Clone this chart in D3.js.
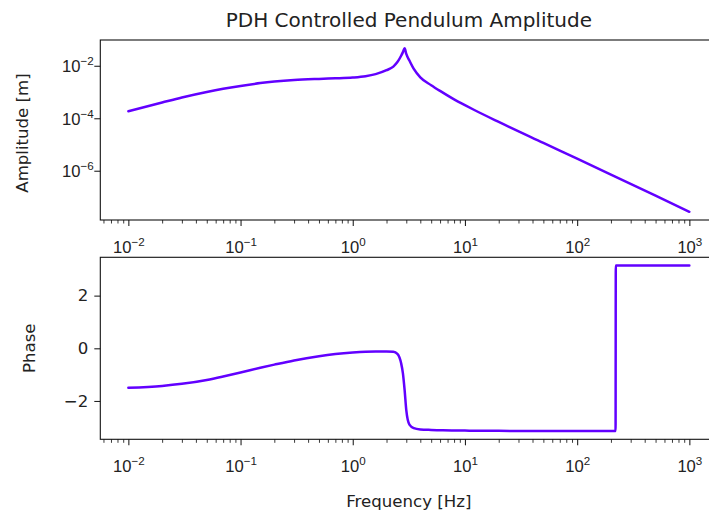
<!DOCTYPE html>
<html>
<head>
<meta charset="utf-8">
<script src="https://cdn.jsdelivr.net/npm/d3@7/dist/d3.min.js"></script>
<style>
  html, body { margin: 0; padding: 0; background: #fff; }
  svg { display: block; font-family: "DejaVu Sans", sans-serif; }
</style>
</head>
<body>
<svg id="chart" width="709" height="516"></svg>
<script>
// Frequency response of the PDH-controlled pendulum
const ampFreqHz = [0.01, 0.02, 0.03, 0.05, 0.07, 0.1, 0.15, 0.2, 0.3, 0.5,
  0.7, 1.0, 1.3, 1.6, 2.0, 2.3, 2.5, 2.7, 2.8, 2.9,
  3.0, 3.2, 3.5, 4, 5, 6, 8, 10, 12, 20,
  50, 100, 200, 500, 1000];

const amplitudeM = [1.86e-4, 3.98e-4, 6.17e-4, 1.0e-3, 1.32e-3, 1.70e-3, 2.19e-3, 2.51e-3, 2.88e-3, 3.16e-3,
  3.31e-3, 3.55e-3, 3.98e-3, 4.79e-3, 6.76e-3, 9.33e-3, 1.38e-2, 2.40e-2, 3.31e-2, 4.68e-2,
  2.82e-2, 1.58e-2, 7.59e-3, 3.63e-3, 1.82e-3, 1.10e-3, 5.25e-4, 3.16e-4, 2.11e-4, 7.24e-5,
  1.15e-5, 2.88e-6, 7.16e-7, 1.12e-7, 2.72e-8];

const phaseFreqHz = [0.01, 0.02, 0.03, 0.05, 0.07, 0.1, 0.15, 0.2, 0.3, 0.5,
  0.7, 1.0, 1.3, 1.6, 2.0, 2.3, 2.5, 2.7, 2.8, 2.9,
  3.0, 3.2, 3.5, 4, 5, 6, 8, 10, 12, 20,
  50, 100, 200, 220, 221, 500, 1000];

const phaseRad = [-1.50, -1.43, -1.35, -1.20, -1.07, -0.92, -0.74, -0.62, -0.46, -0.30,
  -0.22, -0.16, -0.13, -0.12, -0.12, -0.13, -0.21, -0.57, -0.95, -1.59,
  -2.35, -2.90, -3.03, -3.08, -3.10, -3.11, -3.12, -3.125, -3.13, -3.135,
  -3.138, -3.14, -3.141, -3.141, 3.141, 3.141, 3.141];

const freqTickExps = [-2, -1, 0, 1, 2, 3];
const ampTickExps = [-2, -4, -6];
const phaseTicks = [-2, 0, 2];

const titleText = "PDH Controlled Pendulum Amplitude";
const ampLabel = "Amplitude [m]";
const phaseLabel = "Phase";
const freqLabel = "Frequency [Hz]";

const lineColor = "#6200ff";
const inkColor = "#222";
const fontSize = 16.6;

const svg = d3.select("#chart");

// Panel geometry
const left = 100.3, right = 717.4;
const ampPanel = { top: 40, bottom: 220 };
const phasePanel = { top: 257.3, bottom: 439.3 };

// 5% padding around the data (in log space for log axes)
function padLog(values) {
  const [lo, hi] = d3.extent(values).map(Math.log10);
  const p = (hi - lo) * 0.05;
  return [Math.pow(10, lo - p), Math.pow(10, hi + p)];
}
function padLin(values) {
  const [lo, hi] = d3.extent(values);
  const p = (hi - lo) * 0.05;
  return [lo - p, hi + p];
}

const x = d3.scaleLog().domain(padLog(ampFreqHz.concat(phaseFreqHz))).range([left, right]);
const yAmp = d3.scaleLog().domain(padLog(amplitudeM)).range([ampPanel.bottom, ampPanel.top]);
const yPhase = d3.scaleLinear().domain(padLin(phaseRad)).range([phasePanel.bottom, phasePanel.top]);

// Minor ticks on the frequency axis: 2..9 x each decade inside the domain
const [xLo, xHi] = x.domain();
const minorTicks = [];
for (let e = Math.floor(Math.log10(xLo)); e <= Math.ceil(Math.log10(xHi)); e++) {
  for (let m = 2; m <= 9; m++) {
    const v = m * Math.pow(10, e);
    if (v >= xLo && v <= xHi) minorTicks.push(v);
  }
}

function powerLabel(sel, exp) {
  sel.append("tspan").text("10");
  sel.append("tspan")
    .attr("dy", -7)
    .attr("font-size", fontSize * 0.7)
    .text(exp < 0 ? "\u2212" + Math.abs(exp) : String(exp));
}

function drawFreqAxis(bottom) {
  const g = svg.append("g").attr("transform", `translate(0,${bottom})`);
  g.append("g")
    .call(d3.axisBottom(x).tickValues(minorTicks).tickSize(3.5).tickFormat(() => ""))
    .call(a => a.select(".domain").remove())
    .selectAll("line").attr("stroke", inkColor).attr("stroke-width", 0.9);
  const major = g.append("g")
    .call(d3.axisBottom(x).tickValues(freqTickExps.map(e => Math.pow(10, e))).tickSize(6).tickFormat(() => ""))
    .call(a => a.select(".domain").remove());
  major.selectAll("line").attr("stroke", inkColor).attr("stroke-width", 1.1);
  major.selectAll(".tick").each(function (d) {
    const t = d3.select(this).append("text")
      .attr("y", 33)
      .attr("text-anchor", "middle")
      .attr("fill", inkColor)
      .attr("font-size", fontSize);
    powerLabel(t, Math.round(Math.log10(d)));
  });
}

function drawFrame(panel) {
  svg.append("rect")
    .attr("x", left).attr("y", panel.top)
    .attr("width", right - left).attr("height", panel.bottom - panel.top)
    .attr("fill", "none").attr("stroke", "#111").attr("stroke-width", 1.1);
}

function drawLine(xs, ys, yScale) {
  svg.append("path")
    .datum(xs.map((f, i) => [f, ys[i]]))
    .attr("fill", "none")
    .attr("stroke", lineColor)
    .attr("stroke-width", 2.5)
    .attr("stroke-linejoin", "round")
    .attr("stroke-linecap", "round")
    .attr("d", d3.line().x(d => x(d[0])).y(d => yScale(d[1])).curve(d3.curveMonotoneX));
}

// ---- Amplitude panel ----
const ampAxis = svg.append("g").attr("transform", `translate(${left},0)`)
  .call(d3.axisLeft(yAmp).tickValues(ampTickExps.map(e => Math.pow(10, e))).tickSize(6).tickFormat(() => ""))
  .call(a => a.select(".domain").remove());
ampAxis.selectAll("line").attr("stroke", inkColor).attr("stroke-width", 1.1);
ampAxis.selectAll(".tick").each(function (d) {
  const t = d3.select(this).append("text")
    .attr("x", -6.5)
    .attr("y", 6)
    .attr("text-anchor", "end")
    .attr("fill", inkColor)
    .attr("font-size", fontSize);
  powerLabel(t, Math.round(Math.log10(d)));
});
drawFreqAxis(ampPanel.bottom);
drawLine(ampFreqHz, amplitudeM, yAmp);
drawFrame(ampPanel);

// ---- Phase panel ----
const phaseAxis = svg.append("g").attr("transform", `translate(${left},0)`)
  .call(d3.axisLeft(yPhase).tickValues(phaseTicks).tickSize(6).tickPadding(6)
    .tickFormat(v => v < 0 ? "\u2212" + Math.abs(v) : String(v)))
  .call(a => a.select(".domain").remove());
phaseAxis.selectAll("line").attr("stroke", inkColor).attr("stroke-width", 1.1);
phaseAxis.selectAll("text").attr("fill", inkColor).attr("font-size", fontSize)
  .attr("font-family", "DejaVu Sans");
drawFreqAxis(phasePanel.bottom);
drawLine(phaseFreqHz, phaseRad, yPhase);
drawFrame(phasePanel);

// ---- Titles and axis labels ----
svg.append("text")
  .attr("x", (left + right) / 2).attr("y", 26.5)
  .attr("text-anchor", "middle").attr("font-size", 20).attr("fill", inkColor)
  .text(titleText);

svg.append("text")
  .attr("transform", `translate(28,${(ampPanel.top + ampPanel.bottom) / 2 + 3}) rotate(-90)`)
  .attr("text-anchor", "middle").attr("font-size", fontSize).attr("fill", inkColor)
  .text(ampLabel);

svg.append("text")
  .attr("transform", `translate(35,${(phasePanel.top + phasePanel.bottom) / 2}) rotate(-90)`)
  .attr("text-anchor", "middle").attr("font-size", fontSize).attr("fill", inkColor)
  .text(phaseLabel);

svg.append("text")
  .attr("x", (left + right) / 2).attr("y", 507)
  .attr("text-anchor", "middle").attr("font-size", fontSize).attr("fill", inkColor)
  .text(freqLabel);
</script>
</body>
</html>
